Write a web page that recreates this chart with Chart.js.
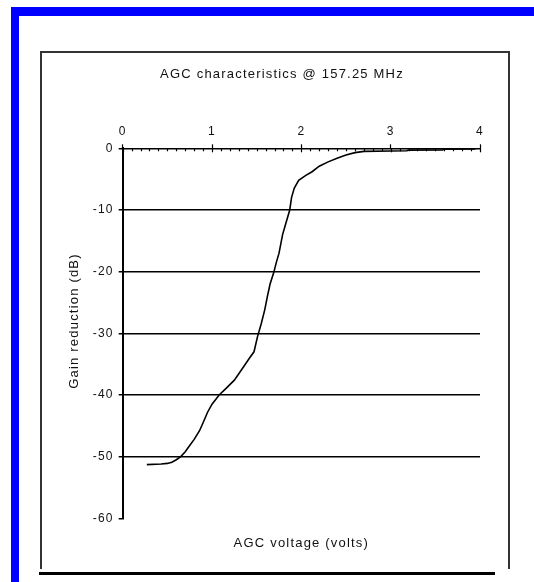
<!DOCTYPE html>
<html>
<head>
<meta charset="utf-8">
<script src="https://cdn.jsdelivr.net/npm/chart.js@4"></script>
<style>
  html, body { margin: 0; padding: 0; background: #fff; }
  body { width: 534px; height: 582px; position: relative; overflow: hidden; }
  .blue { position: absolute; background: #0000ff; }
  .line { position: absolute; background: #333; z-index: 2; }
  #wrap { position: absolute; left: 42px; top: 52px; width: 480px; height: 538px; }
</style>
</head>
<body>
<div class="blue" style="left:11px;top:7px;width:523px;height:9px"></div>
<div class="blue" style="left:11px;top:7px;width:8px;height:575px"></div>
<div class="line" style="left:40px;top:51px;width:470px;height:2px"></div>
<div class="line" style="left:40px;top:51px;width:2px;height:518px"></div>
<div class="line" style="left:508px;top:51px;width:2px;height:518px"></div>
<div class="line" style="left:39px;top:572px;width:456px;height:3px;background:#000"></div>
<div id="wrap"><canvas id="chart" width="480" height="538"></canvas></div>
<script>
// AGC curve: control voltage (V) vs gain reduction (dB)
const voltage = [0.27, 0.43, 0.50, 0.55, 0.60, 0.65, 0.70, 0.75, 0.80, 0.86,
  0.90, 0.95, 1.00, 1.08, 1.16, 1.25, 1.34, 1.42, 1.47, 1.51,
  1.55, 1.59, 1.62, 1.65, 1.69, 1.72, 1.75, 1.79, 1.83, 1.87,
  1.89, 1.92, 1.97, 2.05, 2.12, 2.20, 2.30, 2.40, 2.50, 2.60,
  2.70, 3.00, 3.18, 3.20, 3.58, 3.60, 3.95];
const gainReduction = [-51.3, -51.2, -51.1, -50.9, -50.5, -50.0, -49.2, -48.2, -47.2, -45.8,
  -44.5, -42.8, -41.5, -40.0, -38.9, -37.6, -35.7, -34.0, -33.0, -30.5,
  -28.5, -26.2, -24.0, -22.0, -20.2, -18.5, -17.0, -14.0, -12.0, -10.0,
  -8.0, -6.5, -5.2, -4.4, -3.8, -2.9, -2.2, -1.6, -1.1, -0.7,
  -0.5, -0.45, -0.4, -0.3, -0.25, -0.15, -0.1];

const xRange = [0, 4];
const yRange = [-60, 0];
const chartTitle = 'AGC characteristics @ 157.25 MHz';
const xTitle = 'AGC voltage (volts)';
const yTitle = 'Gain reduction (dB)';

const FONT = '"Liberation Sans", Arial, sans-serif';
const isMajor = v => Math.round(v * 10) % 10 === 0;

// the old spreadsheet text is set wide
const spacing = {
  id: 'spacing',
  beforeLayout(chart) { chart.ctx.letterSpacing = '1.2px'; },
  beforeDraw(chart) { chart.ctx.letterSpacing = '1.2px'; }
};

// short marks hanging below the top axis
const crossTicks = {
  id: 'crossTicks',
  afterDraw(chart) {
    const sc = chart.scales.x;
    const y0 = chart.chartArea.top;
    const ctx = chart.ctx;
    ctx.save();
    ctx.strokeStyle = '#000';
    ctx.lineWidth = 1.2;
    sc.ticks.forEach(t => {
      const px = Math.round(sc.getPixelForValue(t.value)) + 0.5;
      ctx.beginPath();
      ctx.moveTo(px, y0);
      ctx.lineTo(px, y0 + (isMajor(t.value) ? 4 : 3));
      ctx.stroke();
    });
    ctx.restore();
  }
};

new Chart(document.getElementById('chart'), {
  type: 'line',
  data: {
    datasets: [{
      data: voltage.map((v, i) => ({ x: v, y: gainReduction[i] })),
      borderColor: '#000',
      borderWidth: 1.6,
      pointRadius: 0,
      tension: 0,
      fill: false
    }]
  },
  options: {
    responsive: false,
    animation: false,
    devicePixelRatio: 1,
    layout: { padding: { left: 42, right: 42, top: 0, bottom: 0 } },
    plugins: {
      legend: { display: false },
      tooltip: { enabled: false },
      title: {
        display: true,
        text: chartTitle,
        color: '#111',
        font: { family: FONT, size: 13, weight: 'normal' },
        padding: { top: 14.2, bottom: 0 }
      },
      // y axis caption, sits left of the scale box
      subtitle: {
        display: true,
        position: 'left',
        text: yTitle,
        color: '#111',
        font: { family: FONT, size: 13 },
        padding: { top: -17.8, bottom: 3.2 }
      }
    },
    scales: {
      x: {
        type: 'linear',
        position: 'top',
        min: xRange[0],
        max: xRange[1],
        afterFit(s) { s.height = 66.5; },
        ticks: {
          stepSize: 0.1,
          autoSkip: false,
          maxRotation: 0,
          minRotation: 0,
          padding: 5.4,
          color: '#111',
          font: { family: FONT, size: 12 },
          callback: v => isMajor(v) ? String(Math.round(v)) : ''
        },
        grid: {
          drawOnChartArea: false,
          tickLength: 4,
          tickWidth: 1.2,
          tickColor: c => (c.tick && isMajor(c.tick.value)) ? '#000' : 'rgba(0,0,0,0)'
        },
        border: { display: true, color: '#000', width: 1.6 }
      },
      x2: {
        type: 'linear',
        position: 'bottom',
        min: xRange[0],
        max: xRange[1],
        afterFit(s) { s.height = 71.7; },
        ticks: { display: false },
        grid: { display: false },
        border: { display: false },
        title: {
          display: true,
          text: xTitle,
          color: '#111',
          font: { family: FONT, size: 13 },
          padding: { top: 0, bottom: 39.2 }
        }
      },
      y: {
        type: 'linear',
        min: yRange[0],
        max: yRange[1],
        afterFit(s) { s.width = 37.7; },
        ticks: {
          stepSize: 10,
          padding: 5,
          color: '#111',
          font: { family: FONT, size: 12 }
        },
        grid: {
          color: c => (c.tick && (c.tick.value === -60 || c.tick.value === 0)) ? 'rgba(0,0,0,0)' : '#000',
          lineWidth: 1.5,
          tickLength: 4,
          tickColor: '#000',
          tickWidth: 1.5
        },
        border: { display: true, color: '#000', width: 2 }
      }
    }
  },
  plugins: [spacing, crossTicks]
});
</script>
</body>
</html>
